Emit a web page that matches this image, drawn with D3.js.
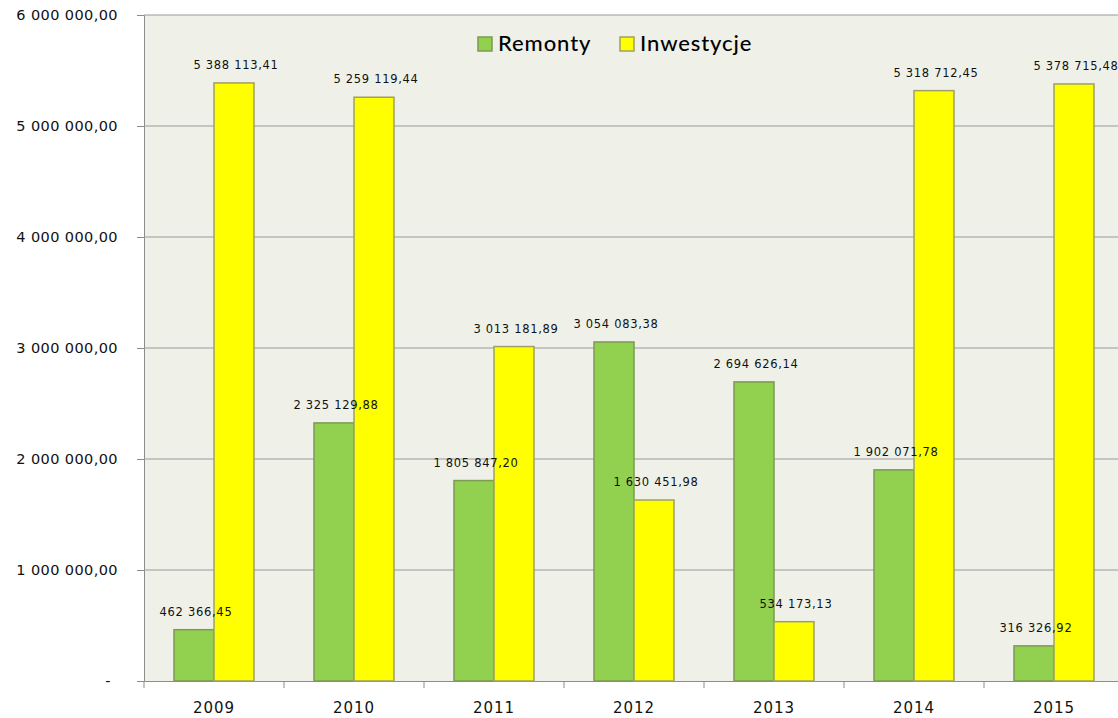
<!DOCTYPE html>
<html><head><meta charset="utf-8">
<script src="https://cdn.jsdelivr.net/npm/d3@7"></script>
<style>body{margin:0;background:#fff}svg{display:block}</style>
</head><body>
<svg id="c" width="1118" height="718"></svg>
<script>
const categories = ["2009","2010","2011","2012","2013","2014","2015"];
const seriesNames = ["Remonty","Inwestycje"];
const remonty = [462366.45, 2325129.88, 1805847.20, 3054083.38, 2694626.14, 1902071.78, 316326.92];
const inwestycje = [5388113.41, 5259119.44, 3013181.89, 1630451.98, 534173.13, 5318712.45, 5378715.48];
const yTicks = [0, 1000000, 2000000, 3000000, 4000000, 5000000, 6000000];
const colors = ["#92d050", "#ffff00"];
const strokes = ["#7c9a52", "#9ea063"];

const svg = d3.select("#c");
const pL = 144, pR = 1124, pT = 15, pB = 681;
const x0 = d3.scaleBand().domain(categories).range([pL, pR]).padding(0);
const x1 = d3.scaleBand().domain(seriesNames).range([30, 110]).padding(0);
const y = d3.scaleLinear().domain([0, 6000000]).range([pB, pT]);

const fmt = v => {
  const s = v.toFixed(2).split(".");
  return s[0].replace(/\B(?=(\d{3})+(?!\d))/g, " ") + "," + s[1];
};

svg.append("rect").attr("x", pL).attr("y", pT).attr("width", pR - pL).attr("height", pB - pT).attr("fill", "#eff1e9");

// gridlines + y axis
const yAxis = d3.axisLeft(y).tickValues(yTicks).tickSize(7).tickFormat(d => d === 0 ? "-" : fmt(d));
const ga = svg.append("g").attr("transform", `translate(${pL},0)`).call(yAxis);
ga.select(".domain").attr("stroke", "#8c8c8c");
ga.selectAll(".tick line").attr("stroke", "#8c8c8c");
ga.selectAll(".tick text").attr("x", -26).attr("font-family", "DejaVu Sans").attr("font-size", 14.5).attr("letter-spacing", 0.4).attr("fill", "#111");
ga.selectAll(".tick").filter(d => d === 0).select("text").attr("x", -33);
svg.append("g").selectAll("line").data(yTicks.filter(d => d > 0)).join("line")
  .attr("x1", pL).attr("x2", pR).attr("y1", d => y(d)).attr("y2", d => y(d))
  .attr("stroke", "#9a9a9a").attr("stroke-width", 1.2);

// x axis
const xAxis = d3.axisBottom(x0).tickSizeInner(0).tickSizeOuter(0).tickPadding(21);
const gx = svg.append("g").attr("transform", `translate(0,${pB})`).call(xAxis);
gx.select(".domain").attr("stroke", "#8c8c8c");
gx.selectAll(".tick text").attr("font-family", "DejaVu Sans").attr("font-size", 15).attr("letter-spacing", 1).attr("fill", "#111");
gx.selectAll("line.sep").data(categories).join("line").attr("class", "sep")
  .attr("x1", d => x0(d)).attr("x2", d => x0(d)).attr("y1", 0).attr("y2", 7).attr("stroke", "#8c8c8c");

// bars
const data = categories.map((c, i) => ({cat: c, vals: [remonty[i], inwestycje[i]]}));
const groups = svg.append("g").selectAll("g").data(data).join("g").attr("transform", d => `translate(${x0(d.cat)},0)`);
groups.selectAll("rect").data(d => d.vals.map((v, k) => ({k, v}))).join("rect")
  .attr("x", d => x1(seriesNames[d.k])).attr("width", x1.bandwidth())
  .attr("y", d => y(d.v)).attr("height", d => pB - y(d.v))
  .attr("fill", d => colors[d.k]).attr("stroke", d => strokes[d.k]).attr("stroke-width", 1.5);
groups.selectAll("text").data(d => d.vals.map((v, k) => ({k, v}))).join("text")
  .attr("x", d => x1(seriesNames[d.k]) + x1.bandwidth() / 2 + 2).attr("y", d => y(d.v) - 14)
  .attr("text-anchor", "middle").attr("font-family", "DejaVu Sans").attr("font-size", 11.5).attr("letter-spacing", 0.7)
  .attr("fill", "#111").text(d => fmt(d.v));

// legend
const leg = svg.append("g");
const legX = [478, 620];
seriesNames.forEach((n, i) => {
  leg.append("rect").attr("x", legX[i]).attr("y", 37).attr("width", 14).attr("height", 14)
    .attr("fill", colors[i]).attr("stroke", strokes[i]).attr("stroke-width", 1.5);
  leg.append("text").attr("x", legX[i] + 20).attr("y", 51).attr("font-family", "Lato").attr("font-size", 22)
    .attr("letter-spacing", 0.9).attr("font-weight", 500).attr("fill", "#000").text(n);
});
</script>
</body></html>
